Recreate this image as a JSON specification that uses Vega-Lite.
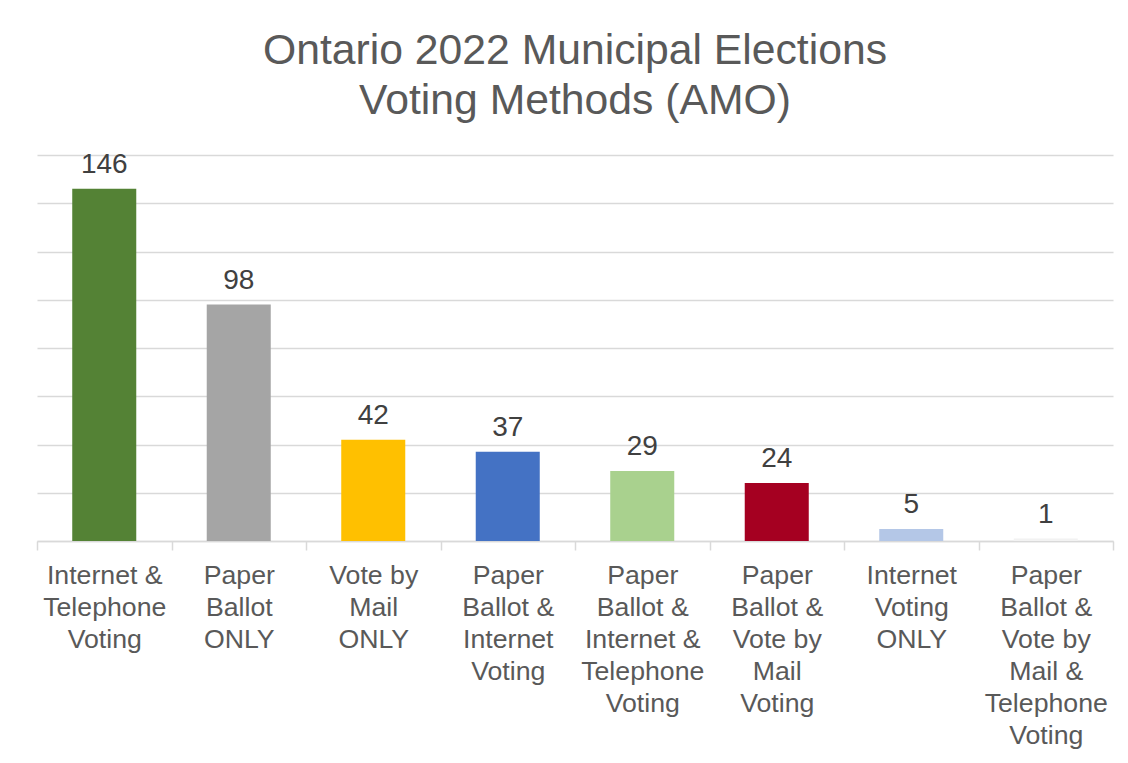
{
  "$schema": "https://vega.github.io/schema/vega-lite/v6.json",
  "autosize": {"type": "none"},
  "width": 1076,
  "height": 386,
  "padding": {"left": 37, "top": 155, "right": 15, "bottom": 222},
  "background": "white",
  "title": {
    "text": ["Ontario 2022 Municipal Elections", "Voting Methods (AMO)"],
    "font": "Liberation Sans",
    "fontSize": 42.7,
    "fontWeight": "normal",
    "color": "#595959",
    "anchor": "middle",
    "lineHeight": 50,
    "offset": 28
  },
  "data": {
    "values": [
      {"method": "Internet &|Telephone|Voting", "count": 146, "color": "#548235"},
      {"method": "Paper|Ballot|ONLY", "count": 98, "color": "#A5A5A5"},
      {"method": "Vote by|Mail|ONLY", "count": 42, "color": "#FFC000"},
      {"method": "Paper|Ballot &|Internet|Voting", "count": 37, "color": "#4472C4"},
      {"method": "Paper|Ballot &|Internet &|Telephone|Voting", "count": 29, "color": "#A9D18E"},
      {"method": "Paper|Ballot &|Vote by|Mail|Voting", "count": 24, "color": "#A50021"},
      {"method": "Internet|Voting|ONLY", "count": 5, "color": "#B4C7E7"},
      {"method": "Paper|Ballot &|Vote by|Mail &|Telephone|Voting", "count": 1, "color": "#F2F2F2"}
    ]
  },
  "encoding": {
    "x": {
      "field": "method",
      "type": "nominal",
      "sort": null,
      "scale": {"paddingInner": 0, "paddingOuter": 0},
      "axis": {
        "title": null,
        "labelAngle": 0,
        "labelExpr": "split(datum.label, '|')",
        "labelFont": "Liberation Sans",
        "labelFontSize": 26.7,
        "labelColor": "#595959",
        "labelLineHeight": 32,
        "labelPadding": 12,
        "labelBaseline": "top",
        "labelLimit": 0,
        "domainColor": "#D9D9D9",
        "domainWidth": 1.5,
        "tickColor": "#D9D9D9",
        "tickWidth": 1.5,
        "tickSize": 9,
        "tickBand": "extent",
        "grid": false
      }
    },
    "y": {
      "field": "count",
      "type": "quantitative",
      "scale": {"domain": [0, 160], "nice": false},
      "axis": {
        "title": null,
        "labels": false,
        "ticks": false,
        "domain": false,
        "values": [0, 20, 40, 60, 80, 100, 120, 140, 160],
        "grid": true,
        "gridColor": "#D9D9D9",
        "gridWidth": 1.5
      }
    }
  },
  "layer": [
    {
      "mark": {"type": "bar", "width": {"band": 0.476}},
      "encoding": {
        "color": {"field": "color", "type": "nominal", "scale": null, "legend": null}
      }
    },
    {
      "mark": {
        "type": "text",
        "font": "Liberation Sans",
        "fontSize": 28,
        "color": "#404040",
        "baseline": "alphabetic",
        "dy": -16
      },
      "encoding": {
        "text": {"field": "count", "type": "quantitative"}
      }
    }
  ],
  "config": {
    "view": {"stroke": null}
  }
}
